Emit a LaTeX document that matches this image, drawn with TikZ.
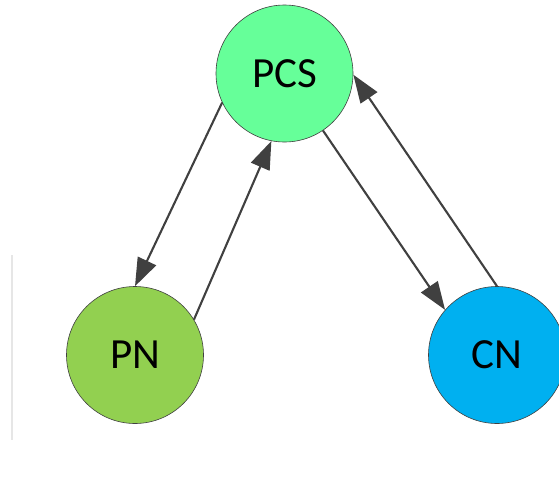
\documentclass[tikz,border=0pt]{standalone}
\usepackage{fontspec}
\setmainfont{Carlito}
\usetikzlibrary{arrows.meta}
\definecolor{pcsgreen}{HTML}{66FF99}
\definecolor{pngreen}{HTML}{92D050}
\definecolor{cnblue}{HTML}{00B0F0}
\definecolor{edgegray}{HTML}{404040}
\definecolor{rulegray}{HTML}{E6E6E6}
\begin{document}
\begin{tikzpicture}[x=1pt,y=-1pt,
  state/.style={circle, draw=edgegray, line width=0.6pt, minimum size=137pt, inner sep=0pt,
    font=\fontsize{43}{50}\selectfont},
  link/.style={draw=edgegray, line width=2.1pt,
    -{Triangle[length=28pt,width=20pt]}}]
\useasboundingbox (0,0) rectangle (559,482);
% faint rule on the left
\coordinate (ruletop) at (12,255);
\coordinate (rulebot) at (12,440);
\draw[rulegray, line width=1.3pt] (ruletop) -- (rulebot);
% the three states
\node[state, fill=pcsgreen] (PCS) at (284.5,73.5) {PCS};
\node[state, fill=pngreen] (PN) at (135,355) {PN};
\node[state, fill=cnblue] (CN) at (497,355) {CN};
% transitions
\draw[link] (PCS.205) -- (PN.90);
\draw[link] (PN.31) -- (PCS.259);
\draw[link] (PCS.304) -- (CN.139);
\draw[link] (CN.90) -- (PCS.359);
\end{tikzpicture}
\end{document}
